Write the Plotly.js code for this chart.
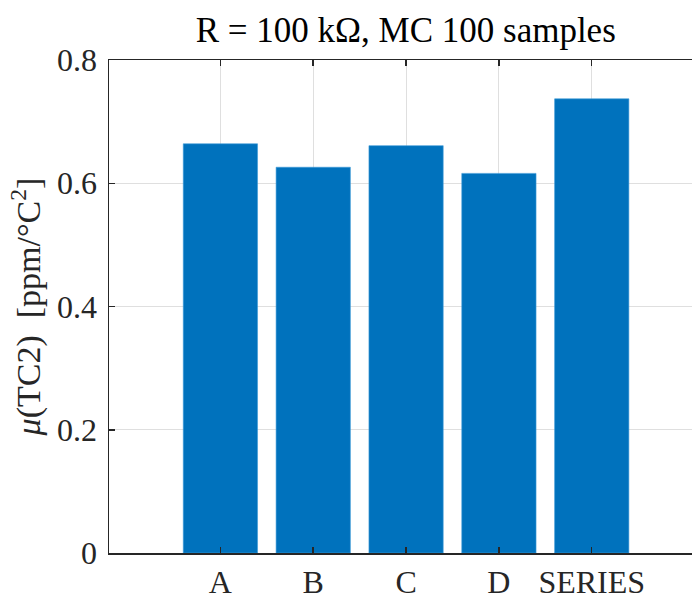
<!DOCTYPE html>
<html>
<head>
<meta charset="utf-8">
<script src="https://cdn.plot.ly/plotly-3.0.1.min.js"></script>
<style>
html,body{margin:0;padding:0;background:#fff;overflow:hidden;}
#chart{width:692px;height:599px;}
</style>
</head>
<body>
<div id="chart"></div>
<script>
// Data
const categories = ["A", "B", "C", "D", "SERIES"];
const positions = [1, 2, 3, 4, 5];
const meanTC2 = [0.664, 0.626, 0.661, 0.616, 0.737];
const yTicks = [0, 0.2, 0.4, 0.6, 0.8];
const yTickLabels = ["0", "0.2", "0.4", "0.6", "0.8"];

const FONT = "Liberation Serif, Times New Roman, serif";
const AXIS = "#262626";

const trace = {
  type: "bar",
  x: positions,
  y: meanTC2,
  width: 0.8,
  marker: {color: "#0072BD", line: {color: "#3d9ad8", width: 0.6}},
  hoverinfo: "skip"
};

const layout = {
  width: 692,
  height: 599,
  margin: {l: 109, r: 0, t: 60, b: 46},
  paper_bgcolor: "#ffffff",
  plot_bgcolor: "#ffffff",
  showlegend: false,
  bargap: 0,
  title: {
    text: "R = 100 kΩ, MC 100 samples",
    font: {family: FONT, size: 35, color: "#000"},
    x: 0.509, xref: "paper", xanchor: "center",
    y: 27, yref: "container", yanchor: "middle"
  },
  xaxis: {
    range: [-0.2, 6.08],
    tickmode: "array",
    tickvals: positions,
    ticktext: categories,
    ticks: "inside",
    ticklen: 6,
    tickwidth: 1.5,
    tickcolor: AXIS,
    showline: true,
    linecolor: AXIS,
    linewidth: 1.5,
    mirror: "ticks",
    showgrid: true,
    gridcolor: "#dfdfdf",
    gridwidth: 1,
    zeroline: false,
    tickfont: {family: FONT, size: 32, color: "#262626"},
    ticklabelstandoff: 0,
    fixedrange: true
  },
  yaxis: {
    range: [0, 0.8],
    tickmode: "array",
    tickvals: yTicks,
    ticktext: yTickLabels,
    ticks: "inside",
    ticklen: 6,
    tickwidth: 1.5,
    tickcolor: AXIS,
    showline: true,
    linecolor: AXIS,
    linewidth: 1.5,
    mirror: false,
    showgrid: true,
    gridcolor: "#dfdfdf",
    gridwidth: 1,
    zeroline: false,
    tickfont: {family: FONT, size: 32, color: "#262626"},
    ticklabelstandoff: 4,
    title: {
      text: "<i>μ</i>(TC2)\u00A0\u00A0[ppm/°C<sup>2</sup>]",
      font: {family: FONT, size: 34, color: "#262626"},
      standoff: 6
    },
    fixedrange: true
  }
};

Plotly.newPlot("chart", [trace], layout, {displayModeBar: false, staticPlot: true});
</script>
</body>
</html>
